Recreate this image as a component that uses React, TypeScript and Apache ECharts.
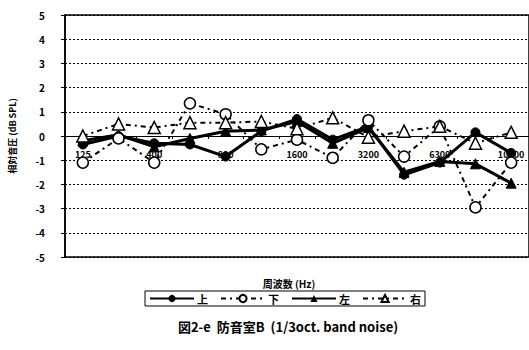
import React, { useEffect, useRef } from "react";
import * as echarts from "echarts";

// 1/3 octave band centre frequencies (Hz) — every other label is shown
const bands = ["125", "250", "400", "630", "800", "1250", "1600", "2500", "3200", "5000", "6300", "8000", "10000"];

// Relative sound pressure at each microphone position (dB SPL)
const upper = [-0.35, 0.0, -0.3, -0.35, -0.85, 0.2, 0.7, -0.15, 0.4, -1.6, -1.1, 0.15, -0.7];
const lower = [-1.1, -0.1, -1.1, 1.35, 0.9, -0.55, -0.15, -0.9, 0.65, -0.85, 0.4, -2.95, -1.1];
const left = [-0.2, 0.05, -0.45, -0.1, 0.2, 0.25, 0.6, -0.3, 0.35, -1.5, -1.05, -1.15, -1.95];
const right = [0.0, 0.5, 0.35, 0.55, 0.55, 0.6, 0.3, 0.75, -0.05, 0.2, 0.4, -0.3, 0.15];

const seriesNames = ["上", "下", "左", "右"];

const FONT = "'Noto Sans CJK JP', 'Noto Sans', sans-serif";

// plot box (px)
const GRID_TOP = 15;
const GRID_BOTTOM = 93;
const CHART_H = 350;

export default function App() {
  const ref = useRef<HTMLDivElement>(null);

  useEffect(() => {
    if (!ref.current) return;
    const chart = echarts.init(ref.current, undefined, { renderer: "svg" });

    const solid = { color: "#000", width: 3, type: "solid" as const };
    const dashed = { color: "#000", width: 2, type: [5, 4, 2, 4] as any };

    // the category axis crosses the value axis at 0 (middle of a symmetric -5..5 range)
    const plotH = CHART_H - GRID_TOP - GRID_BOTTOM;
    const zeroOffset = -plotH / 2;

    chart.setOption({
      animation: false,
      backgroundColor: "#fff",
      textStyle: { fontFamily: FONT },
      title: [
        {
          text: "周波数 (Hz)",
          left: 284,
          top: 273,
          textAlign: "center",
          textStyle: { fontFamily: FONT, fontSize: 10, fontWeight: "bold", color: "#000" },
        },
        {
          text: "図2-e  防音室B  (1/3oct. band noise)",
          left: 283,
          top: 315,
          textAlign: "center",
          textStyle: { fontFamily: FONT, fontSize: 13, fontWeight: "bold", color: "#000" },
        },
      ],
      legend: {
        data: seriesNames,
        left: 145,
        top: 291,
        itemWidth: 44,
        itemHeight: 9,
        itemGap: 12,
        padding: [2, 4],
        borderColor: "#000",
        borderWidth: 1,
        textStyle: { fontFamily: FONT, fontSize: 11, fontWeight: "bold", color: "#000", padding: [0, 0, 0, -2] },
      },
      grid: {
        left: 65,
        right: -3,
        top: GRID_TOP,
        bottom: GRID_BOTTOM,
        show: true,
        borderColor: "#000",
        borderWidth: 1.5,
        backgroundColor: "transparent",
      },
      xAxis: {
        type: "category",
        data: bands,
        boundaryGap: true,
        position: "bottom",
        offset: zeroOffset,
        axisLine: { onZero: false, lineStyle: { color: "#000", width: 1 } },
        axisTick: { show: true, interval: 0, length: 3, inside: false, lineStyle: { color: "#000" } },
        axisLabel: {
          interval: 1,
          margin: 14,
          fontFamily: FONT,
          fontSize: 9,
          fontWeight: "bold",
          color: "#000",
        },
        splitLine: { show: false },
      },
      yAxis: {
        type: "value",
        min: -5,
        max: 5,
        interval: 1,
        name: "相対音圧 (dB SPL)",
        nameLocation: "middle",
        nameGap: 48,
        nameTextStyle: { fontFamily: FONT, fontSize: 9, fontWeight: "bold", color: "#000" },
        axisLine: { show: true, lineStyle: { color: "#000", width: 1.5 } },
        axisTick: { show: true, length: 4, lineStyle: { color: "#000" } },
        axisLabel: {
          margin: 20,
          fontFamily: FONT,
          fontSize: 10,
          fontWeight: "bold",
          color: "#000",
        },
        splitLine: { show: true, lineStyle: { color: "#000", width: 1, type: [2, 2] } },
      },
      series: [
        {
          name: "上",
          type: "line",
          data: upper,
          symbol: "circle",
          symbolSize: 9,
          itemStyle: { color: "#000", borderColor: "#000" },
          lineStyle: solid,
          z: 3,
        },
        {
          name: "下",
          type: "line",
          data: lower,
          symbol: "circle",
          symbolSize: 11,
          showAllSymbol: true,
          itemStyle: { color: "#fff", borderColor: "#000", borderWidth: 1.5 },
          lineStyle: dashed,
          z: 4,
        },
        {
          name: "左",
          type: "line",
          data: left,
          symbol: "triangle",
          symbolSize: 10,
          itemStyle: { color: "#000", borderColor: "#000" },
          lineStyle: solid,
          z: 3,
        },
        {
          name: "右",
          type: "line",
          data: right,
          symbol: "triangle",
          symbolSize: 12,
          itemStyle: { color: "#fff", borderColor: "#000", borderWidth: 1.5 },
          lineStyle: dashed,
          z: 4,
        },
      ],
    });

    return () => chart.dispose();
  }, []);

  return (
    <div
      ref={ref}
      style={{ position: "fixed", left: 0, top: 0, width: 529, height: 350 }}
    />
  );
}
